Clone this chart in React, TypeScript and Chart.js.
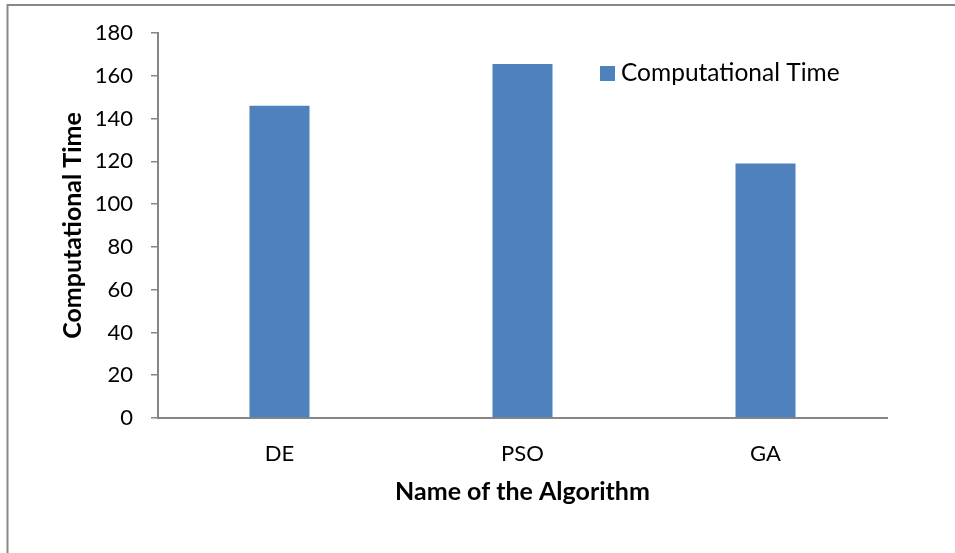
import React, { useEffect, useRef } from "react";
import { Chart, registerables } from "chart.js";

Chart.register(...registerables);

const categories = ["DE", "PSO", "GA"];
const seriesLabel = "Computational Time";
const seriesValues = [146, 165.5, 119];
const yMin = 0;
const yMax = 180;
const yStep = 20;
const xTitle = "Name of the Algorithm";
const yTitle = "Computational Time";

const FONT = "Lato, 'Open Sans', sans-serif";
const AXIS_GRAY = "#868686";
const BAR_BLUE = "#4F81BD";

const framePlugin = {
  id: "frame",
  beforeDraw(chart: any) {
    const ctx = chart.ctx;
    ctx.save();
    ctx.strokeStyle = "#888888";
    ctx.lineWidth = 2;
    ctx.beginPath();
    ctx.moveTo(7.5, chart.height);
    ctx.lineTo(7.5, 5);
    ctx.lineTo(chart.width, 5);
    ctx.stroke();
    ctx.restore();
  },
};

const insideLegendPlugin = {
  id: "insideLegend",
  afterDraw(chart: any) {
    const ctx = chart.ctx;
    const ds = chart.data.datasets[0];
    const x = 600;
    const y = 66;
    ctx.save();
    ctx.fillStyle = ds.backgroundColor;
    ctx.fillRect(x, y, 15, 15);
    ctx.fillStyle = "#000000";
    ctx.font = `24.5px ${FONT}`;
    ctx.textBaseline = "middle";
    ctx.textAlign = "left";
    ctx.fillText(ds.label, x + 21, y + 7.5);
    ctx.restore();
  },
};

export default function App() {
  const ref = useRef<HTMLCanvasElement | null>(null);

  useEffect(() => {
    document.body.style.margin = "0";
    if (!ref.current) return;
    const chart = new Chart(ref.current, {
      type: "bar",
      data: {
        labels: categories,
        datasets: [
          {
            label: seriesLabel,
            data: seriesValues,
            backgroundColor: BAR_BLUE,
            borderWidth: 0,
            barPercentage: 0.247,
            categoryPercentage: 1,
          },
        ],
      },
      options: {
        animation: false,
        responsive: false,
        maintainAspectRatio: false,
        devicePixelRatio: 1,
        layout: { padding: { left: 0, top: 33, right: 68, bottom: 35 } },
        plugins: {
          legend: { display: false },
          tooltip: { enabled: false },
        },
        scales: {
          x: {
            grid: { display: false, drawTicks: false },
            border: { display: true, color: AXIS_GRAY, width: 2 },
            ticks: {
              color: "#000000",
              font: { family: FONT, size: 22 },
              padding: 23,
            },
            title: {
              display: true,
              text: xTitle,
              color: "#000000",
              font: { family: FONT, size: 25, weight: "bold" },
              padding: { top: 0, bottom: 11 },
            },
            afterFit(scale: any) {
              scale.height = 100;
            },
          },
          y: {
            min: yMin,
            max: yMax,
            ticks: {
              stepSize: yStep,
              color: "#000000",
              font: { family: FONT, size: 22 },
              padding: 18,
            },
            grid: {
              drawOnChartArea: false,
              drawTicks: true,
              tickLength: 7,
              color: AXIS_GRAY,
              lineWidth: 1.5,
            },
            border: { display: true, color: AXIS_GRAY, width: 2 },
            title: {
              display: true,
              text: yTitle,
              color: "#000000",
              font: { family: FONT, size: 25, weight: "bold" },
              padding: { top: 58, bottom: 0 },
            },
            afterFit(scale: any) {
              scale.width = 158;
            },
          },
        },
      },
      plugins: [framePlugin, insideLegendPlugin],
    });
    return () => chart.destroy();
  }, []);

  return (
    <div style={{ position: "fixed", left: 0, top: 0, width: 955, height: 553, background: "#ffffff" }}>
      <canvas ref={ref} width={955} height={553} style={{ width: 955, height: 553, display: "block" }} />
    </div>
  );
}
